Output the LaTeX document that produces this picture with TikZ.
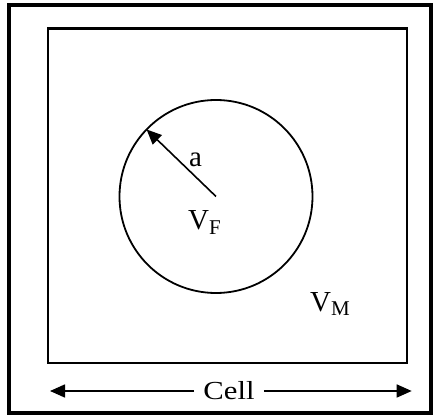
\documentclass[tikz,border=0pt]{standalone}
\usepackage{fontspec}
\setmainfont{Liberation Serif}
\usetikzlibrary{arrows.meta}
\tikzset{
  lbl/.style={inner sep=0pt, anchor=base west, font=\fontsize{29}{32}\selectfont},
  tip/.style={-{Triangle[length=15pt,width=13pt]}, line width=1.6pt},
}
\newcommand{\subsc}[1]{\raisebox{-4.5pt}{\fontsize{21}{23}\selectfont #1}}
\begin{document}
\begin{tikzpicture}[x=1pt,y=-1pt]
\useasboundingbox (0,0) rectangle (440,419);
\node[draw, line width=3.8pt, minimum width=422pt, minimum height=408pt, inner sep=0pt, outer sep=0pt] (frame) at (220,209) {};
\node[draw, line width=2.6pt, minimum width=359pt, minimum height=334.5pt, inner sep=0pt, outer sep=0pt] (cellbox) at (227.5,195.75) {};
\node[draw, circle, line width=1.8pt, minimum size=193pt, inner sep=0pt, outer sep=0pt] (fiber) at (216,196.5) {};
\draw[tip] (fiber.center) -- (fiber.136);
\node[lbl] (a) at (189,167) {a};
\node[lbl] (vf) at (188,230) {V\subsc{F}};
\node[lbl] (vm) at (310,311.5) {V\subsc{M}};
\node[inner xsep=9pt, inner ysep=0pt, font=\fontsize{26}{28}\selectfont] (cell) at (229,391) {\scalebox{1.18}[1]{Cell}};
\coordinate (L) at (50,391);
\coordinate (R) at (411.7,391);
\draw[tip] (cell.west) -- (L);
\draw[tip] (cell.east) -- (R);
\end{tikzpicture}
\end{document}
